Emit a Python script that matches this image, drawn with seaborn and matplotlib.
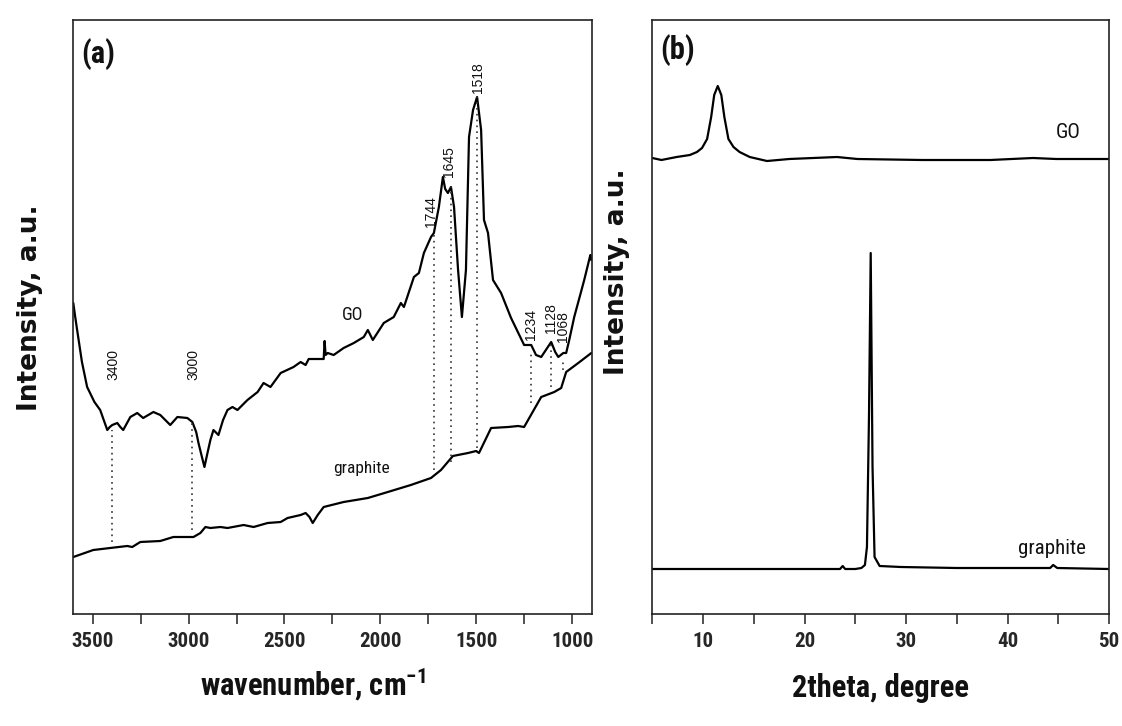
import matplotlib
matplotlib.use("Agg")
import matplotlib.pyplot as plt
from matplotlib import font_manager as fm
from matplotlib.ticker import MultipleLocator
import pandas as pd
import seaborn as sns

# ---------------- data: FTIR (panel a) ----------------
go_ftir_wn = [3600, 3590, 3580, 3555, 3528, 3490, 3460, 3423, 3410, 3397, 3371, 3355, 3340, 3303,
              3267, 3236, 3183, 3147, 3095, 3058, 3006, 2980, 2960, 2948, 2930, 2917, 2900, 2886,
              2870, 2844, 2820, 2797, 2771, 2745, 2693, 2640, 2609, 2573, 2520, 2453, 2416, 2390,
              2374, 2296, 2291, 2286, 2275, 2244, 2192, 2139, 2087, 2066, 2040, 1983, 1931,
              1894, 1878, 1826, 1800, 1774, 1737, 1722, 1696, 1675, 1663, 1649, 1633, 1617,
              1596, 1576, 1555, 1539, 1518, 1497, 1476, 1461, 1440, 1414, 1372, 1320, 1252,
              1215, 1190, 1163, 1111, 1090, 1074, 1048, 1033, 1017, 991, 960, 939, 907, 902]
go_ftir_int = [314, 300, 287, 255, 230, 215, 207, 187, 190, 192, 194, 190, 187, 200,
               204, 199, 205, 202, 192, 200, 199, 195, 185, 174, 160, 150, 165, 177,
               187, 182, 197, 207, 210, 207, 217, 225, 234, 230, 244, 250, 255, 252,
               258, 258, 276, 262, 264, 262, 269, 274, 280, 287, 277, 294, 300,
               314, 310, 340, 344, 364, 380, 384, 410, 440, 428, 424, 430, 410,
               347, 300, 347, 480, 507, 520, 487, 397, 384, 337, 324, 299, 272,
               272, 262, 260, 275, 265, 260, 264, 264, 277, 300, 322, 337, 362, 357]

gr_ftir_wn = [3600, 3496, 3408, 3319, 3293, 3251, 3147, 3079, 2974, 2938, 2912, 2886,
              2834, 2797, 2713, 2661, 2588, 2520, 2484, 2416, 2390, 2370, 2353, 2327, 2296,
              2192, 2066, 1962, 1842, 1737, 1685, 1623, 1544, 1502, 1487, 1424, 1335,
              1283, 1252, 1163, 1095, 1059, 1033, 970, 902]
gr_ftir_int = [60, 67, 69, 71, 70, 75, 76, 80, 80, 84, 90, 89,
               90, 89, 92, 90, 94, 95, 99, 102, 104, 100, 94, 102, 110,
               115, 119, 125, 132, 139, 147, 161, 164, 166, 164, 189, 190,
               191, 190, 220, 225, 229, 245, 254, 264]

band_labels = ["3400", "3000", "1744", "1645", "1518", "1234", "1128", "1068"]
band_pos = [3399, 2981, 1722, 1633, 1497, 1215, 1111, 1050]
band_top = [187, 197, 384, 430, 520, 264, 272, 257]
band_bottom = [75, 87, 147, 155, 169, 214, 230, 247]
band_text_x = [3392, 2976, 1738, 1645, 1492, 1215, 1113, 1047]
band_text_y = [237, 237, 390, 440, 524, 277, 284, 275]

# ---------------- data: XRD (panel b) ----------------
go_xrd_2t = [5.0, 5.9, 7.4, 8.7, 9.4, 9.9, 10.4, 10.8, 11.1, 11.45, 11.8, 12.1, 12.5,
             13.0, 13.6, 14.6, 16.3, 18.5, 23.2, 25.2, 31.6, 38.3, 42.5, 44.8, 50.0]
go_xrd_int = [459, 457, 460, 462, 465, 469, 478, 500, 522, 531, 522, 500, 478,
              470, 465, 460, 456, 458, 460, 458, 457, 457, 459, 458, 458]

gr_xrd_2t = [5.0, 20.0, 23.5, 23.76, 24.0, 25.0, 25.6, 25.95, 26.15, 26.35, 26.52,
             26.7, 26.9, 27.4, 29.5, 35.0, 42.5, 44.2, 44.5, 44.9, 50.0]
gr_xrd_int = [48, 48, 48, 51, 48, 48, 49, 52, 70, 200, 364,
              150, 60, 51, 50, 49, 49, 49, 52, 49, 48]

# ---------------- style ----------------
sns.set_style("ticks")
avail = {f.name for f in fm.fontManager.ttflist}
NARROW = next((n for n in ["Liberation Sans Narrow", "Arial Narrow", "Roboto Condensed"]
               if n in avail), "Liberation Sans")
plt.rcParams["font.family"] = [NARROW, "DejaVu Sans"]
plt.rcParams["mathtext.fontset"] = "custom"
plt.rcParams["mathtext.rm"] = NARROW
plt.rcParams["mathtext.bf"] = NARROW + ":bold"

fig = plt.figure(figsize=(11.22, 7.26), dpi=100)
axA = fig.add_axes([73.3 / 1122, 1 - 614 / 726, 518.4 / 1122, 594 / 726])
axB = fig.add_axes([652.3 / 1122, 1 - 614 / 726, 456.7 / 1122, 594 / 726])

LW = 1.6
dfA = pd.concat([
    pd.DataFrame({"wn": go_ftir_wn, "I": go_ftir_int, "s": "GO"}),
    pd.DataFrame({"wn": gr_ftir_wn, "I": gr_ftir_int, "s": "graphite"}),
])
sns.lineplot(data=dfA, x="wn", y="I", units="s", estimator=None, sort=False,
             color="black", lw=LW, ax=axA)
axA.vlines(band_pos, band_bottom, band_top, colors="#333333",
           linestyles=(0, (1, 2.5)), lw=1.2)
for lab, xp, yt in zip(band_labels, band_text_x, band_text_y):
    axA.text(xp, yt, lab, rotation=90, ha="center", va="bottom",
             fontsize=10, family=["Liberation Sans", "DejaVu Sans"], color="#111111")
axA.text(2145, 302, "GO", ha="center", va="center", fontsize=13, color="#111111")
axA.text(2098, 149, "graphite", ha="center", va="center", fontsize=12.5, color="#111111")

dfB = pd.concat([
    pd.DataFrame({"t": go_xrd_2t, "I": go_xrd_int, "s": "GO"}),
    pd.DataFrame({"t": gr_xrd_2t, "I": gr_xrd_int, "s": "graphite"}),
])
sns.lineplot(data=dfB, x="t", y="I", units="s", estimator=None, sort=False,
             color="black", lw=LW, ax=axB)
axB.text(46.0, 484, "GO", ha="center", va="center", fontsize=15, color="#111111")
axB.text(44.4, 69, "graphite", ha="center", va="center", fontsize=15, color="#111111")

axA.set_xlim(3600, 900)
axA.xaxis.set_major_locator(MultipleLocator(500))
axA.xaxis.set_minor_locator(MultipleLocator(250))
axB.set_xlim(5, 50)
axB.xaxis.set_major_locator(MultipleLocator(10))
axB.xaxis.set_minor_locator(MultipleLocator(5))

for ax, panel, pxy in ((axA, "(a)", (0.048, 0.943)), (axB, "(b)", (0.056, 0.949))):
    ax.set_ylim(3, 597)
    ax.set_yticks([])
    for sp in ax.spines.values():
        sp.set_visible(True)
        sp.set_color("#222222")
        sp.set_linewidth(1.2)
    ax.tick_params(axis="x", which="both", direction="out", length=7, width=1.1,
                   color="#222222", pad=6, labelsize=15)
    for t in ax.get_xticklabels():
        t.set_fontweight("bold")
    ax.text(pxy[0], pxy[1], panel, transform=ax.transAxes, ha="center", va="center",
            fontsize=22, fontweight="bold", color="#111111")
    ax.set_ylabel("Intensity, a.u.", fontsize=19, fontweight="bold",
                  family=["DejaVu Sans"], color="#111111")
    ax.yaxis.label.set_va("center")

axA.set_xlabel(r"wavenumber, cm$^{\mathbf{-1}}$", fontsize=22, fontweight="bold", color="#111111")
axB.set_xlabel("2theta, degree", fontsize=22, fontweight="bold", color="#111111")
for ax in (axA, axB):
    ax.xaxis.label.set_va("center")

axA.yaxis.set_label_coords(-0.0835, 0.515)
axB.yaxis.set_label_coords(-0.077, 0.576)
axA.xaxis.set_label_coords(0.462, -0.12)
axB.xaxis.set_label_coords(0.4986, -0.125)

fig.savefig("out.png", dpi=100)
